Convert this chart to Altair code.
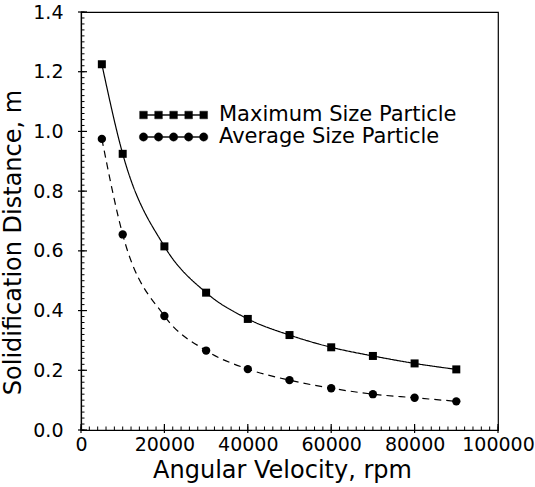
import altair as alt
import pandas as pd

# Data
rpm = [5000, 10000, 20000, 30000, 40000, 50000, 60000, 70000, 80000, 90000]
max_size = [1.225, 0.925, 0.615, 0.46, 0.372, 0.318, 0.277, 0.248, 0.223, 0.203]
avg_size = [0.975, 0.655, 0.382, 0.266, 0.204, 0.167, 0.140, 0.120, 0.108, 0.096]
series_names = ["Maximum Size Particle", "Average Size Particle"]

x_major = [0, 20000, 40000, 60000, 80000, 100000]
y_major = [0.0, 0.2, 0.4, 0.6, 0.8, 1.0, 1.2, 1.4]
x_minor = [i * 2000 for i in range(51)]
y_minor = [round(i * 0.02, 2) for i in range(71)]

rows = []
for r, v in zip(rpm, max_size):
    rows.append({"rpm": r, "dist": v, "series": series_names[0]})
for r, v in zip(rpm, avg_size):
    rows.append({"rpm": r, "dist": v, "series": series_names[1]})
df = pd.DataFrame(rows)
legend_df = pd.DataFrame({"series": series_names})

W, H = 417, 418
FONT = "DejaVu Sans"
xs = alt.Scale(domain=[0, 100000], nice=False, zero=False)
ys = alt.Scale(domain=[0, 1.4], nice=False, zero=False)

CENTERS = [-8.6, -4.3, 0.0, 4.3, 8.6]


def sq_path():
    parts = []
    for cx in CENTERS:
        parts.append(f"M{cx-1.1:.2f},-1.1H{cx+1.1:.2f}V1.1H{cx-1.1:.2f}Z")
    parts.append("M-8.6,-0.13H8.6V0.13H-8.6Z")
    return "".join(parts)


def ci_path():
    parts = []
    for cx in CENTERS:
        parts.append(
            f"M{cx-1.2:.2f},0A1.2,1.2 0 1,1 {cx+1.2:.2f},0A1.2,1.2 0 1,1 {cx-1.2:.2f},0Z"
        )
    parts.append("M-8.6,-0.13H8.6V0.13H-8.6Z")
    return "".join(parts)


X_AXIS = alt.Axis(
    orient="bottom",
    values=x_major,
    format="d",
    title="Angular Velocity, rpm",
    titleX=201,
    titleY=47,
    titleBaseline="alphabetic",
    titleAnchor="middle",
    ticks=False,
    tickSize=0,
    labelPadding=5,
    labelOverlap=False,
    labelFlush=False,
)
Y_AXIS = alt.Axis(
    orient="left",
    values=y_major,
    format=".1f",
    title="Solidification Distance, m",
    titleX=-68,
    titleY=230,
    titleBaseline="middle",
    titleAnchor="middle",
    ticks=False,
    tickSize=0,
    labelPadding=18,
    labelOverlap=False,
    labelFlush=False,
)

base = alt.Chart(df)

line = base.mark_line(color="black", strokeWidth=1.2, interpolate="monotone").encode(
    x=alt.X("rpm:Q", scale=xs, axis=X_AXIS),
    y=alt.Y("dist:Q", scale=ys, axis=Y_AXIS),
    strokeDash=alt.StrokeDash(
        "series:N",
        scale=alt.Scale(domain=series_names, range=[[1, 0], [7, 5]]),
        legend=None,
    ),
)

pts_max = (
    base.transform_filter(alt.datum.series == series_names[0])
    .mark_point(filled=True, size=64, color="black", opacity=1, shape="square")
    .encode(x=alt.X("rpm:Q"), y=alt.Y("dist:Q"))
)
pts_avg = (
    base.transform_filter(alt.datum.series == series_names[1])
    .mark_point(filled=True, size=70, color="black", opacity=1, shape="circle")
    .encode(x=alt.X("rpm:Q"), y=alt.Y("dist:Q"))
)


# Inward axis tick marks drawn as stroked symbols, placed through the shared scales
def xticks(vals, path, size, w):
    return alt.Chart(pd.DataFrame({"rpm": vals})).mark_point(
        shape=path, size=size, filled=False, stroke="black", strokeWidth=w, opacity=1
    ).encode(x=alt.X("rpm:Q"), y=alt.value(H))


def yticks(vals, path, size, w):
    return alt.Chart(pd.DataFrame({"dist": vals})).mark_point(
        shape=path, size=size, filled=False, stroke="black", strokeWidth=w, opacity=1
    ).encode(y=alt.Y("dist:Q"), x=alt.value(0))


tick_layers = [
    xticks(x_minor, "M0,0L0,-1", 49, 1),
    xticks(x_major, "M0,1L0,-2", 36, 1.2),
    yticks(y_minor, "M0,0L1,0", 49, 1),
    yticks(y_major, "M-1,0L2,0", 36, 1.2),
]


# Manual legend (row positions in pixels)
def legend_row(name, path, ypix):
    sub = alt.Chart(legend_df).transform_filter(alt.datum.series == name)
    sym = sub.mark_point(
        filled=True, color="black", opacity=1, size=49, strokeWidth=0.4,
        stroke="black", shape=path,
    ).encode(x=alt.value(92.6), y=alt.value(ypix))
    txt = sub.mark_text(
        align="left", baseline="middle", font=FONT, fontSize=21, color="black"
    ).encode(x=alt.value(138), y=alt.value(ypix), text="series:N")
    return [sym, txt]


legend_layers = legend_row(series_names[0], sq_path(), 103) + legend_row(
    series_names[1], ci_path(), 125
)

chart = (
    alt.layer(line, pts_max, pts_avg, *tick_layers, *legend_layers)
    .properties(
        width=W,
        height=H,
        autosize=alt.AutoSizeParams(type="none"),
        padding={"left": 81, "top": 12, "right": 37, "bottom": 57},
        background="white",
    )
    .configure_view(stroke="black", strokeWidth=1.2)
    .configure_axis(
        domainColor="black",
        domainWidth=1.2,
        grid=False,
        labelFont=FONT,
        labelFontSize=19,
        labelColor="black",
        titleFont=FONT,
        titleFontSize=24,
        titleFontWeight="normal",
        titleColor="black",
    )
)

chart.save("out.html", embed_options={"renderer": "svg", "actions": False})
